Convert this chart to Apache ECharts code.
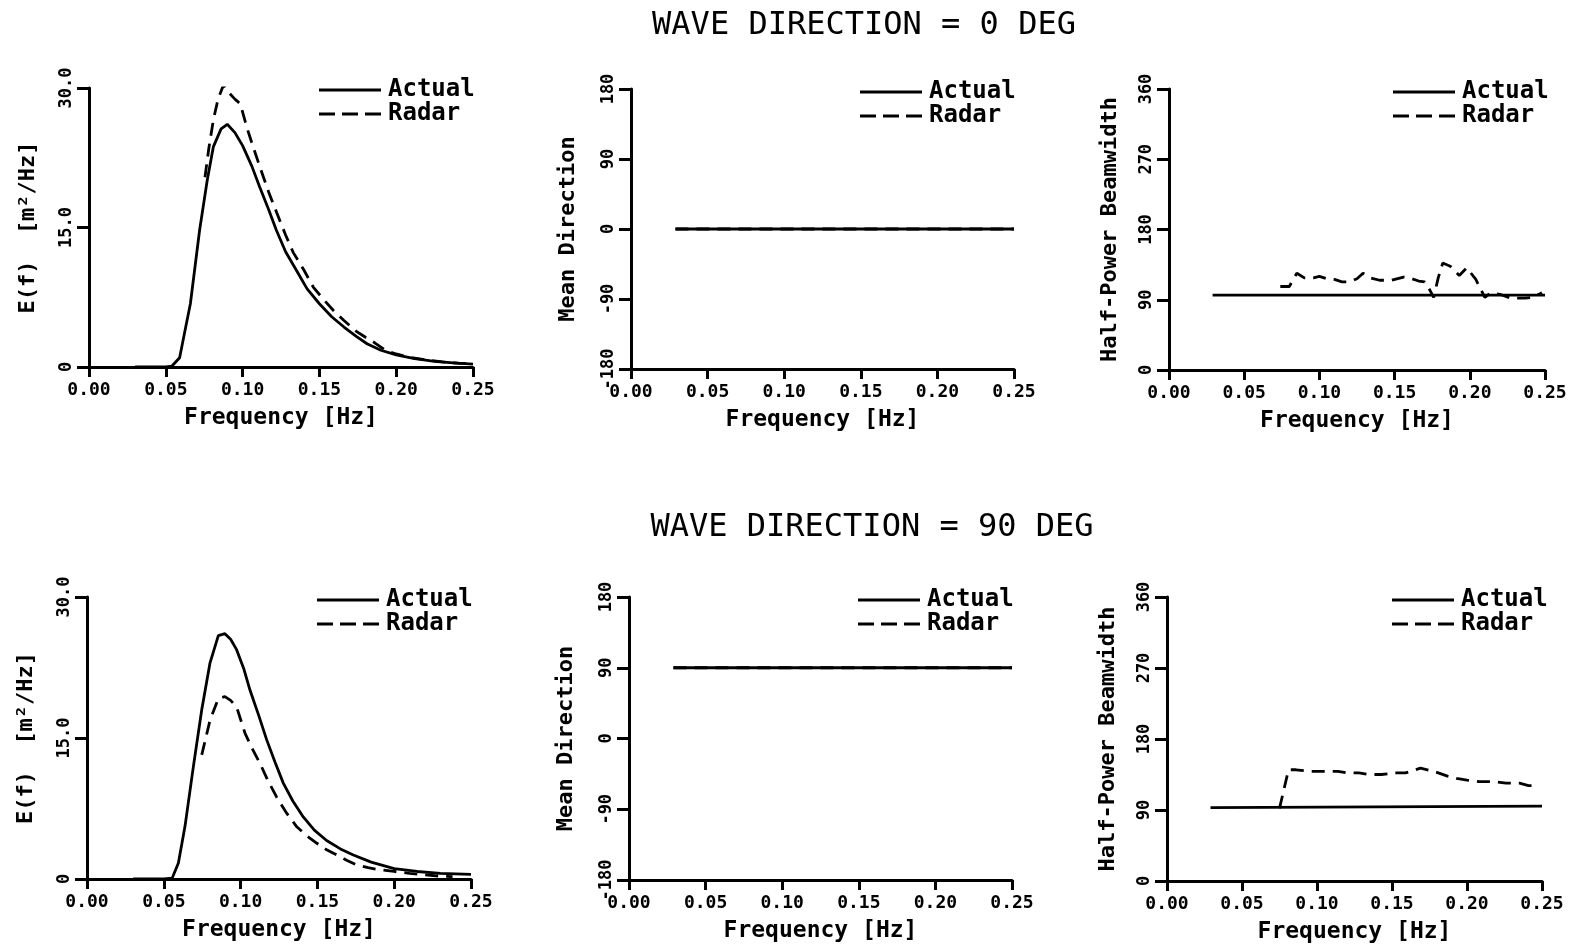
<!DOCTYPE html>
<html>
<head>
<meta charset="utf-8">
<title>Wave spectra: actual vs radar</title>
<script src="https://cdn.jsdelivr.net/npm/echarts@6/dist/echarts.min.js"></script>
<style>
  html, body { margin: 0; padding: 0; background: #fff; }
  #chart { width: 1594px; height: 952px; }
</style>
</head>
<body>
<div id="chart"></div>
<script>
// ---- Axis ticks ----
const freqTicks = [0, 0.05, 0.10, 0.15, 0.20, 0.25];

// ---- Wave direction = 0 deg ----
// Energy spectrum E(f) [m^2/Hz]
const fE0Actual = [0.030, 0.040, 0.050, 0.054, 0.059, 0.062, 0.066, 0.072, 0.077, 0.081, 0.086, 0.090, 0.095, 0.100, 0.106, 0.111, 0.117, 0.122, 0.128, 0.135, 0.142, 0.150, 0.158, 0.166, 0.174, 0.181, 0.190, 0.200, 0.212, 0.225, 0.237, 0.250];
const eE0Actual  = [0, 0, 0, 0.1, 1.0, 3.5, 6.8, 14.7, 20.1, 23.7, 25.6, 26.1, 25.2, 23.8, 21.6, 19.4, 16.9, 14.7, 12.4, 10.4, 8.4, 6.8, 5.4, 4.3, 3.3, 2.5, 1.8, 1.3, 0.9, 0.6, 0.45, 0.3];
const fE0Radar   = [0.0755, 0.078, 0.081, 0.084, 0.0875, 0.091, 0.095, 0.0985, 0.1027, 0.107, 0.1113, 0.117, 0.1222, 0.128, 0.133, 0.140, 0.146, 0.152, 0.159, 0.166, 0.1743, 0.180, 0.186, 0.193, 0.200, 0.210, 0.220, 0.230, 0.240, 0.250];
const eE0Radar   = [20.4, 23.5, 26.6, 28.8, 30.3, 29.5, 28.8, 28.3, 25.8, 23.6, 21.5, 18.8, 16.6, 14.2, 12.3, 10.4, 8.6, 7.4, 6.1, 5.0, 3.8, 3.2, 2.6, 1.8, 1.4, 1.0, 0.75, 0.55, 0.42, 0.32];
// Mean direction [deg]
const fDir0      = [0.029, 0.250];
const dir0Actual = [0, 0];
const dir0Radar  = [0, 0];
// Half-power beamwidth [deg]
const fBw0Actual = [0.029, 0.250];
const bw0Actual  = [96, 96];
const fBw0Radar  = [0.074, 0.080, 0.085, 0.090, 0.096, 0.100, 0.105, 0.110, 0.115, 0.120, 0.125, 0.129, 0.134, 0.140, 0.148, 0.156, 0.160, 0.166, 0.170, 0.173, 0.176, 0.179, 0.182, 0.187, 0.193, 0.198, 0.204, 0.210, 0.214, 0.220, 0.227, 0.237, 0.242, 0.248];
const bw0Radar   = [107, 107, 124, 118, 118, 120, 117, 116, 113, 113, 117, 124, 118, 115, 115, 119, 118, 114, 113, 104, 93, 118, 137, 133, 121, 131, 116, 93, 99, 97, 92, 92, 93, 99];

// ---- Wave direction = 90 deg ----
const fE90Actual = [0.030, 0.040, 0.050, 0.0555, 0.0595, 0.0638, 0.0692, 0.0747, 0.0801, 0.0855, 0.0898, 0.0935, 0.0974, 0.102, 0.1061, 0.112, 0.117, 0.1225, 0.1278, 0.134, 0.1408, 0.148, 0.156, 0.165, 0.1734, 0.185, 0.200, 0.215, 0.230, 0.250];
const eE90Actual = [0, 0, 0, 0.1, 1.7, 5.6, 11.9, 18.0, 23.0, 25.9, 26.1, 25.5, 24.4, 22.4, 20.1, 17.3, 14.8, 12.4, 10.2, 8.3, 6.6, 5.2, 4.1, 3.2, 2.55, 1.8, 1.1, 0.8, 0.6, 0.5];
const fE90Radar  = [0.0747, 0.0801, 0.0855, 0.0898, 0.0935, 0.0974, 0.1029, 0.1075, 0.1126, 0.118, 0.1235, 0.130, 0.1366, 0.143, 0.1497, 0.156, 0.1626, 0.169, 0.1756, 0.183, 0.190, 0.200, 0.210, 0.220, 0.230, 0.238];
const eE90Radar  = [13.2, 16.9, 19.2, 19.4, 19.0, 18.3, 15.5, 13.9, 12.3, 10.4, 8.7, 7.0, 5.55, 4.6, 3.8, 3.1, 2.55, 2.0, 1.5, 1.2, 1.0, 0.8, 0.6, 0.45, 0.3, 0.25];
const fDir90      = [0.029, 0.250];
const dir90Actual = [90, 90];
const dir90Radar  = [90, 90];
const fBw90Actual = [0.029, 0.250];
const bw90Actual  = [93, 95];
const fBw90Radar  = [0.075, 0.081, 0.086, 0.095, 0.105, 0.114, 0.120, 0.128, 0.134, 0.143, 0.152, 0.159, 0.169, 0.178, 0.187, 0.193, 0.200, 0.208, 0.218, 0.226, 0.235, 0.241, 0.248];
const bw90Radar   = [92, 141, 141, 139, 139, 139, 137, 137, 135, 135, 137, 137, 143, 139, 133, 130, 128, 126, 126, 124, 124, 121, 121];

const titles = ['WAVE DIRECTION = 0 DEG', 'WAVE DIRECTION = 90 DEG'];
const seriesNames = ['Actual', 'Radar'];

// ---- Layout and styling ----
const FONT = 'DejaVu Sans Mono';
const INK = '#000';
const zip = (xs, ys) => xs.map((x, i) => [x, ys[i]]);

const grids = [
  { left: 89,   top: 88,  width: 384, height: 279 },
  { left: 631,  top: 89,  width: 383, height: 280 },
  { left: 1169, top: 89,  width: 376, height: 281 },
  { left: 87,   top: 597, width: 384, height: 282 },
  { left: 629,  top: 597, width: 383, height: 283 },
  { left: 1167, top: 597, width: 375, height: 284 }
];

const panelKinds = ['E', 'dir', 'bw', 'E', 'dir', 'bw'];
const yAxisSpec = {
  E:   { min: 0,    max: 30,  interval: 15, name: 'E(f)  [m²/Hz]', nameGap: 50, fmt: v => v === 0 ? '0' : v.toFixed(1) },
  dir: { min: -180, max: 180, interval: 90, name: 'Mean Direction', nameGap: 52, fmt: v => String(v) },
  bw:  { min: 0,    max: 360, interval: 90, name: 'Half-Power Beamwidth', nameGap: 48, fmt: v => String(v) }
};

const panelData = [
  [zip(fE0Actual, eE0Actual),   zip(fE0Radar, eE0Radar)],
  [zip(fDir0, dir0Actual),      zip(fDir0, dir0Radar)],
  [zip(fBw0Actual, bw0Actual),  zip(fBw0Radar, bw0Radar)],
  [zip(fE90Actual, eE90Actual), zip(fE90Radar, eE90Radar)],
  [zip(fDir90, dir90Actual),    zip(fDir90, dir90Radar)],
  [zip(fBw90Actual, bw90Actual),zip(fBw90Radar, bw90Radar)]
];

const axisLine = { show: true, onZero: false, lineStyle: { color: INK, width: 3 } };
const axisTick = (len) => ({ show: true, inside: false, length: len, lineStyle: { color: INK, width: 3 } });

const xAxes = grids.map((g, i) => ({
  type: 'value', gridIndex: i,
  min: freqTicks[0], max: freqTicks[freqTicks.length - 1], interval: 0.05,
  axisLine, axisTick: axisTick(10), splitLine: { show: false },
  axisLabel: { color: INK, fontFamily: FONT, fontWeight: 'bold', fontSize: 18, margin: 14,
               formatter: v => v.toFixed(2) },
  name: 'Frequency [Hz]', nameLocation: 'middle', nameGap: 40,
  nameTextStyle: { color: INK, fontFamily: FONT, fontWeight: 'bold', fontSize: 23 }
}));

const yAxes = grids.map((g, i) => {
  const s = yAxisSpec[panelKinds[i]];
  return {
    type: 'value', gridIndex: i, min: s.min, max: s.max, interval: s.interval,
    axisLine, axisTick: axisTick(12), splitLine: { show: false },
    axisLabel: { color: INK, fontFamily: FONT, fontWeight: 'bold', fontSize: 17, rotate: 90, margin: 14,
                 formatter: s.fmt },
    name: s.name, nameLocation: 'middle', nameGap: s.nameGap, nameRotate: 90,
    nameTextStyle: { color: INK, fontFamily: FONT, fontWeight: 'bold', fontSize: 22 }
  };
});

const series = [];
panelData.forEach((pair, i) => {
  series.push({
    name: seriesNames[0], type: 'line', xAxisIndex: i, yAxisIndex: i,
    data: pair[0], symbol: 'none', showSymbol: false,
    lineStyle: { color: INK, width: 2.8, type: 'solid' }, itemStyle: { color: INK }
  });
  series.push({
    name: seriesNames[1], type: 'line', xAxisIndex: i, yAxisIndex: i,
    data: pair[1], symbol: 'none', showSymbol: false,
    lineStyle: { color: INK, width: 2.8, type: [13, 8] }, itemStyle: { color: INK }
  });
});

// Legend keys: a solid bar and a three-dash bar
const solidKey = 'path://M0,0h62v3h-62z';
const dashedKey = 'path://M0,0h16v3h-16z M23,0h16v3h-16z M46,0h16v3h-16z';

// Legend block in the upper-right corner of every panel
const legendPos = [
  { left: 319,  top: 78 },
  { left: 860,  top: 80 },
  { left: 1393, top: 80 },
  { left: 317,  top: 588 },
  { left: 858,  top: 588 },
  { left: 1392, top: 588 }
];
const legends = legendPos.map(p => ({
  data: [{ name: seriesNames[0], icon: solidKey }, { name: seriesNames[1], icon: dashedKey }],
  orient: 'vertical', left: p.left, top: p.top,
  itemWidth: 62, itemHeight: 3, itemGap: 0, padding: 0, selectedMode: false,
  itemStyle: { color: INK, borderWidth: 0 },
  textStyle: { color: INK, fontFamily: FONT, fontWeight: 'bold', fontSize: 24, lineHeight: 22, padding: [0, 0, 0, 2] }
}));

const option = {
  backgroundColor: '#fff',
  animation: false,
  title: [
    { text: titles[0], left: 859, top: 5, textAlign: 'center',
      textStyle: { color: INK, fontFamily: FONT, fontWeight: 'normal', fontSize: 32 } },
    { text: titles[1], left: 867, top: 507, textAlign: 'center',
      textStyle: { color: INK, fontFamily: FONT, fontWeight: 'normal', fontSize: 32 } }
  ],
  legend: legends,
  grid: grids,
  xAxis: xAxes,
  yAxis: yAxes,
  series
};

const chart = echarts.init(document.getElementById('chart'), null, { renderer: 'canvas' });
chart.setOption(option);
</script>
</body>
</html>
